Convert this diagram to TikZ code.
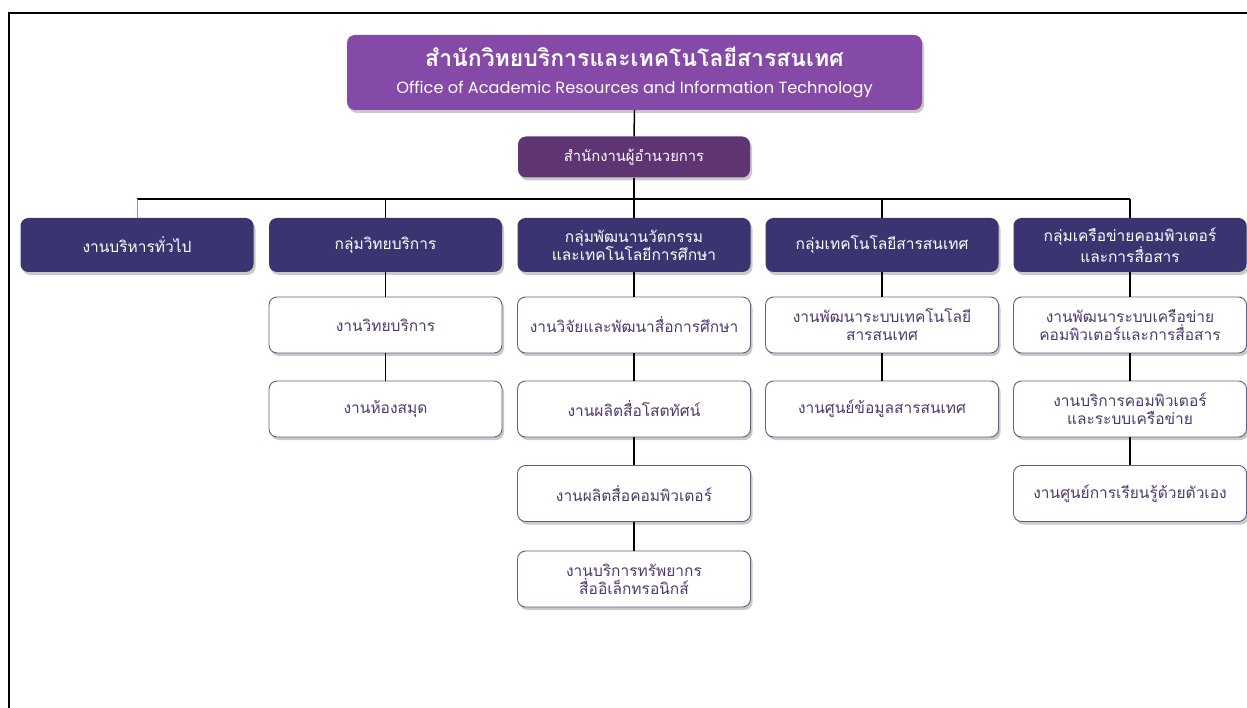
\documentclass[tikz,border=0pt]{standalone}
\usepackage{fontspec}
\newfontfamily\thai[Script=Thai]{Loma}
\newfontfamily\eng{Poppins}
\usetikzlibrary{shadows}
\definecolor{titlepurple}{HTML}{8549A8}
\definecolor{dirpurple}{HTML}{5E3472}
\definecolor{grpnavy}{HTML}{3A3571}
\definecolor{subedge}{HTML}{6A5888}
\definecolor{subtext}{HTML}{4E3A6E}
\tikzset{
  box/.style={rounded corners=8pt, minimum width=233pt, align=center, inner sep=2pt,
    drop shadow={shadow xshift=2pt, shadow yshift=-3pt, opacity=0.35, fill=black!60}},
  titlebox/.style={box, fill=titlepurple, text=white, minimum width=575pt, minimum height=75pt},
  dirbox/.style={box, fill=dirpurple, text=white, minimum width=232pt, minimum height=41pt, font=\thai\fontsize{14.8}{17}\selectfont},
  grpbox/.style={box, fill=grpnavy, text=white, minimum height=54pt, font=\thai\fontsize{15.5}{18}\selectfont},
  subbox/.style={box, fill=white, draw=subedge, line width=0.9pt, text=subtext, minimum height=56pt, font=\thai\fontsize{15.5}{18}\selectfont},
  link/.style={draw=black, line width=1.5pt},
}
\begin{document}
\begin{tikzpicture}[x=1pt,y=-1pt]
\useasboundingbox (0,0) rectangle (1247,708);
\fill[white] (0,0) rectangle (1247,708);
\draw[line width=2pt] (9,708) -- (9,13) -- (1247,13);

\node[titlebox] (title) at (634.5,72.5) {{\thai\bfseries\fontsize{23}{26}\selectfont สำนักวิทยบริการและเทคโนโลยีสารสนเทศ}\\[14pt]{\eng\fontsize{16.2}{19}\selectfont Office of Academic Resources and Information Technology}};
\node[dirbox] (dir) at (634,157) {สำนักงานผู้อำนวยการ};

\node[grpbox] (g1) at (137,245) {งานบริหารทั่วไป};
\node[grpbox] (g2) at (385.5,245) {กลุ่มวิทยบริการ};
\node[grpbox] (g3) at (634,245) {กลุ่มพัฒนานวัตกรรม\\และเทคโนโลยีการศึกษา};
\node[grpbox] (g4) at (882,245) {กลุ่มเทคโนโลยีสารสนเทศ};
\node[grpbox] (g5) at (1130,245) {กลุ่มเครือข่ายคอมพิวเตอร์\\และการสื่อสาร};

\node[subbox] (b1) at (385.5,325) {งานวิทยบริการ};
\node[subbox] (b2) at (385.5,409) {งานห้องสมุด};

\node[subbox] (c1) at (634,325) {งานวิจัยและพัฒนาสื่อการศึกษา};
\node[subbox] (c2) at (634,409) {งานผลิตสื่อโสตทัศน์};
\node[subbox] (c3) at (634,493.5) {งานผลิตสื่อคอมพิวเตอร์};
\node[subbox] (c4) at (634,579) {งานบริการทรัพยากร\\สื่ออิเล็กทรอนิกส์};

\node[subbox] (d1) at (882,325) {งานพัฒนาระบบเทคโนโลยี\\สารสนเทศ};
\node[subbox] (d2) at (882,409) {งานศูนย์ข้อมูลสารสนเทศ};

\node[subbox] (e1) at (1130,325) {งานพัฒนาระบบเครือข่าย\\คอมพิวเตอร์และการสื่อสาร};
\node[subbox] (e2) at (1130,409) {งานบริการคอมพิวเตอร์\\และระบบเครือข่าย};
\node[subbox] (e3) at (1130,493.5) {งานศูนย์การเรียนรู้ด้วยตัวเอง};

\coordinate (busL) at (137,199);
\coordinate (busR) at (1130,199);
\coordinate (busM) at (634,199);

\draw[link] (title.south) -- (dir.north);
\draw[link] (dir.south) -- (busM);
\draw[link] (busL) -- (busR);
\draw[draw=titlepurple!70, line width=1pt] (busL) -- (g1.north);
\draw[link] (g2.north |- busL) -- (g2.north);
\draw[link] (busM) -- (g3.north);
\draw[link] (g4.north |- busL) -- (g4.north);
\draw[link] (busR) -- (g5.north);
\draw[link] (g2.south) -- (b1.north);
\draw[link] (b1.south) -- (b2.north);
\draw[link] (g3.south) -- (c1.north);
\draw[link] (c1.south) -- (c2.north);
\draw[link] (c2.south) -- (c3.north);
\draw[link] (c3.south) -- (c4.north);
\draw[link] (g4.south) -- (d1.north);
\draw[link] (d1.south) -- (d2.north);
\draw[link] (g5.south) -- (e1.north);
\draw[link] (e1.south) -- (e2.north);
\draw[link] (e2.south) -- (e3.north);
\end{tikzpicture}
\end{document}
